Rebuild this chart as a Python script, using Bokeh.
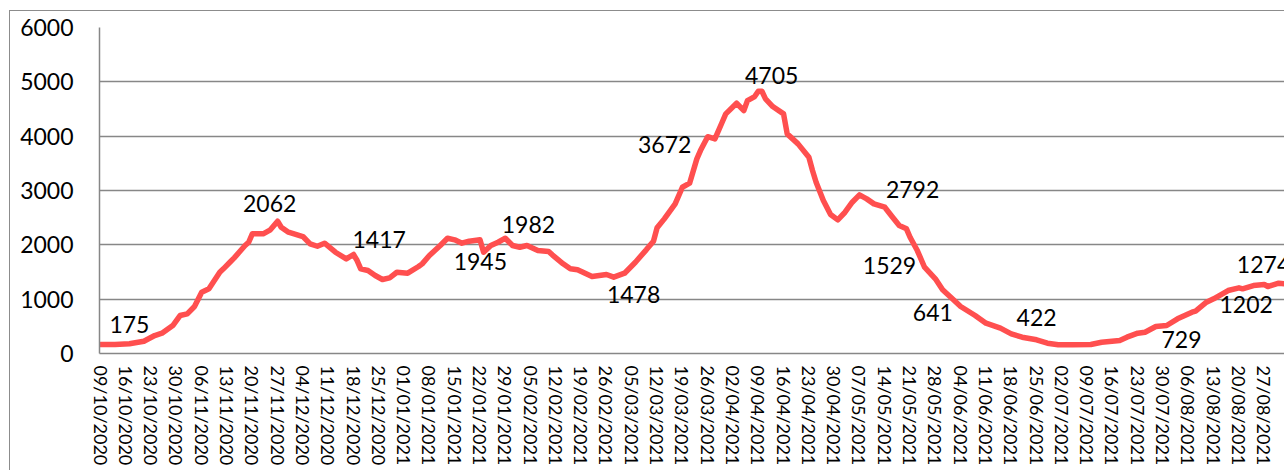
from bokeh.plotting import figure
from bokeh.models import Range1d, FixedTicker, ColumnDataSource
from bokeh.core.properties import value
from bokeh.embed import file_html
from bokeh.resources import INLINE
import pandas as pd

# ---- data (days since 09/10/2020, daily cases) ----
START = "2020-10-09"
days = [0, 4, 8, 12, 15, 17, 20, 22, 24, 26, 28, 30, 33, 34, 36, 37, 40, 41, 42, 45,
        47, 49, 50, 52, 56, 58, 60, 62, 65, 68, 70, 71, 72, 74, 76, 78, 80, 82, 85, 88,
        89, 91, 94, 96, 98, 100, 102, 105, 106, 108, 110, 112, 114, 116, 118, 121, 124,
        125, 128, 130, 132, 136, 140, 142, 145, 148, 151, 153, 154, 156, 159, 161, 163,
        165, 166, 168, 170, 172, 173, 176, 178, 179, 181, 182, 183, 184, 186, 189, 190,
        193, 196, 197, 198, 200, 202, 204, 206, 208, 210, 212, 214, 217, 219, 221, 223,
        224, 226, 228, 231, 233, 236, 238, 242, 245, 249, 252, 255, 259, 262, 265, 269,
        274, 277, 282, 284, 287, 289, 292, 295, 298, 302, 303, 306, 308, 312, 315, 316,
        319, 322, 323, 326, 328, 330]
cases = [166, 166, 178, 226, 331, 374, 515, 699, 730, 865, 1128, 1190, 1496, 1558, 1693,
         1761, 1987, 2048, 2202, 2202, 2276, 2434, 2324, 2232, 2153, 2018, 1974, 2030, 1864,
         1742, 1822, 1711, 1558, 1527, 1435, 1362, 1393, 1496, 1478, 1601, 1650, 1803, 1987,
         2122, 2092, 2030, 2067, 2092, 1864, 1987, 2048, 2122, 1987, 1956, 1987, 1895, 1877,
         1816, 1650, 1558, 1540, 1417, 1454, 1405, 1478, 1680, 1908, 2067, 2313, 2478, 2754,
         3060, 3134, 3582, 3735, 3990, 3950, 4256, 4410, 4606, 4471, 4655, 4729, 4826, 4826,
         4686, 4545, 4410, 4042, 3858, 3612, 3367, 3152, 2815, 2558, 2460, 2600, 2784, 2920,
         2846, 2754, 2692, 2521, 2355, 2294, 2140, 1895, 1588, 1374, 1172, 988, 865, 699,
         558, 466, 362, 300, 252, 190, 160, 160, 166, 208, 239, 300, 374, 392, 497, 515,
         638, 760, 779, 944, 1006, 1159, 1209, 1190, 1251, 1270, 1233, 1294, 1282, 1290]

# data labels shown on the chart
label_text = ["175", "2062", "1417", "1945", "1982", "1478", "3672", "4705", "2792",
              "1529", "641", "422", "729", "1202", "1274"]
label_day = [8.0, 46.8, 77.1, 105.1, 118.4, 147.5, 156.1, 185.7, 224.7,
             218.3, 230.3, 259.0, 299.1, 317.0, 321.8]
label_y = [515, 2742, 2088, 1674, 2364, 1076, 3836, 5106, 2999,
           1601, 745, 635, 239, 883, 1619]

y_ticks = [0, 1000, 2000, 3000, 4000, 5000, 6000]
tick_days = list(range(0, 330, 7))
tick_labels = [(pd.Timestamp(START) + pd.Timedelta(days=d)).strftime("%d/%m/%Y")
               for d in tick_days]

FONT = "Lato"
GRID = "#878787"

p = figure(width=1284, height=470,
           x_range=Range1d(-0.28, 327.6), y_range=Range1d(0, 6000),
           output_backend="svg", toolbar_location=None,
           min_border_left=99, min_border_right=0,
           min_border_top=27, min_border_bottom=117)
# outer chart border (top and left edges visible), drawn behind a transparent border fill
p.styles = {
    "background": ("linear-gradient(#8c8c8c,#8c8c8c) 9px 10px / 1px 100% no-repeat, "
                   "linear-gradient(#8c8c8c,#8c8c8c) 9px 10px / 100% 1px no-repeat, white"),
}
p.background_fill_color = "white"
p.border_fill_color = None
p.outline_line_color = None

p.xgrid.grid_line_color = None
p.ygrid.grid_line_color = GRID
p.ygrid.grid_line_width = 1.5

p.yaxis.ticker = FixedTicker(ticks=y_ticks)
p.yaxis.major_tick_line_color = None
p.yaxis.minor_tick_line_color = None
p.yaxis.major_tick_out = 0
p.yaxis.major_label_standoff = 26
p.yaxis.axis_line_color = GRID
p.yaxis.axis_line_width = 1.5
p.yaxis.major_label_text_font = FONT
p.yaxis.major_label_text_font_size = "23px"
p.yaxis.major_label_text_color = "black"

p.xaxis.ticker = FixedTicker(ticks=tick_days)
p.xaxis.major_label_overrides = {d: lbl for d, lbl in zip(tick_days, tick_labels)}
p.xaxis.major_label_orientation = "vertical"
p.xaxis.major_tick_line_color = None
p.xaxis.minor_tick_line_color = None
p.xaxis.major_tick_out = 0
p.xaxis.major_label_standoff = 12
p.xaxis.axis_line_color = GRID
p.xaxis.axis_line_width = 1.5
p.xaxis.major_label_text_font = FONT
p.xaxis.major_label_text_font_size = "18px"
p.xaxis.major_label_text_color = "black"

src = ColumnDataSource(dict(x=days, y=cases))
p.line("x", "y", source=src, line_color="#ff4f4f", line_width=5.5,
       line_join="round", line_cap="round")

lsrc = ColumnDataSource(dict(x=label_day, y=label_y, t=label_text))
p.text("x", "y", text="t", source=lsrc, text_font=value(FONT),
       text_font_size="23px", text_align="center", text_baseline="middle",
       text_color="black", y_offset=-1)

open("out.html", "w").write(file_html(p, INLINE))
